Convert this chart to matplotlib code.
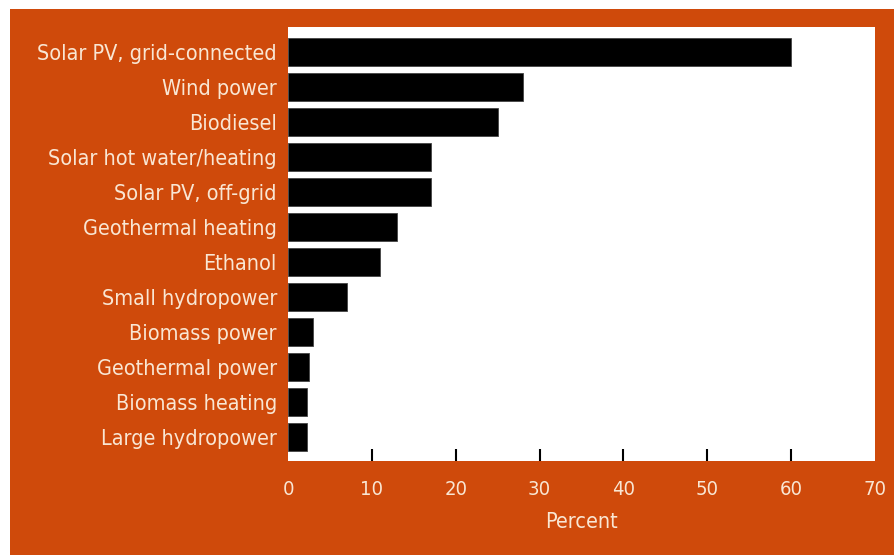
import matplotlib
matplotlib.use("Agg")
import matplotlib.pyplot as plt
from matplotlib.patches import Rectangle
from matplotlib import font_manager

plt.rcParams['font.family'] = ['DejaVu Sans']
condensed = any('condensed' in str(f.stretch).lower() or 'Condensed' in f.fname
                for f in font_manager.fontManager.ttflist if f.name == 'DejaVu Sans')
plt.rcParams['font.stretch'] = 'condensed' if condensed else 'normal'

categories = [
    "Solar PV, grid-connected",
    "Wind power",
    "Biodiesel",
    "Solar hot water/heating",
    "Solar PV, off-grid",
    "Geothermal heating",
    "Ethanol",
    "Small hydropower",
    "Biomass power",
    "Geothermal power",
    "Biomass heating",
    "Large hydropower",
]
growth_pct = [60, 28, 25, 17, 17, 13, 11, 7, 3, 2.5, 2.3, 2.3]
x_ticks = [0, 10, 20, 30, 40, 50, 60, 70]
x_label = "Percent"

ORANGE = "#CF4A0B"
CREAM = "#F9E6D3"
label_size = 15.5 if condensed else 14

fig = plt.figure(figsize=(8.94, 5.56), dpi=100, facecolor="white")
# orange panel behind the chart
panel = Rectangle((10 / 894, 0.002), 1 - 10 / 894, 1 - 9 / 556 - 0.002,
                  transform=fig.transFigure, facecolor=ORANGE,
                  edgecolor="none", zorder=-10)
fig.add_artist(panel)

ax = fig.add_axes([288 / 894, 1 - 461 / 556, (875 - 288) / 894, (461 - 27) / 556])
ax.set_zorder(5)
ax.set_facecolor("white")

y = list(range(len(categories)))
ax.barh(y, growth_pct, height=0.8, color="black", edgecolor="#444444", linewidth=0.6)

ax.set_xlim(0, 70)
ax.set_ylim(len(categories) - 0.3, -0.72)

ax.set_yticks(y)
ax.set_yticklabels(categories, fontsize=label_size, color=CREAM)
ax.tick_params(axis="y", length=0, pad=8)

ax.set_xticks(x_ticks)
ax.set_xticklabels([str(t) for t in x_ticks], fontsize=label_size - 1, color=CREAM)
ax.tick_params(axis="x", direction="in", length=8.5, width=1.5, color="black", pad=14)
# no marks at the two ends of the scale
for t in (ax.xaxis.get_major_ticks()[0], ax.xaxis.get_major_ticks()[-1]):
    t.tick1line.set_visible(False)

ax.set_xlabel(x_label, fontsize=label_size, color=CREAM, labelpad=9)

for s in ax.spines.values():
    s.set_visible(False)

fig.savefig("out.png", dpi=100, facecolor="white")
